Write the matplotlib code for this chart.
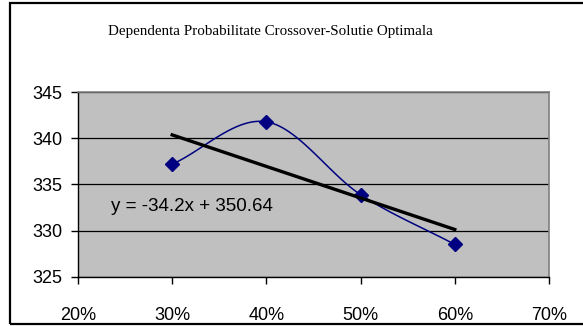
import matplotlib
matplotlib.use("Agg")
import matplotlib.pyplot as plt
import numpy as np
from matplotlib.patches import Rectangle
from matplotlib.ticker import FuncFormatter

# date
prob = [0.30, 0.40, 0.50, 0.60]
solutie = [337.2, 341.8, 333.9, 328.5]
panta = -34.2
interceptie = 350.64
titlu = "Dependenta Probabilitate Crossover-Solutie Optimala"
eticheta_trend = "y = -34.2x + 350.64"


def catmull_rom(xs, ys, n=30):
    # curba netezita ca in Excel
    px = np.array(xs, dtype=float)
    py = np.array(ys, dtype=float)
    px = np.concatenate([[2 * px[0] - px[1]], px, [2 * px[-1] - px[-2]]])
    py = np.concatenate([[2 * py[0] - py[1]], py, [2 * py[-1] - py[-2]]])
    cx, cy = [], []
    t = np.linspace(0, 1, n)
    for i in range(1, len(px) - 2):
        for arr, out in ((px, cx), (py, cy)):
            p0, p1, p2, p3 = arr[i - 1], arr[i], arr[i + 1], arr[i + 2]
            out.extend(0.5 * (2 * p1 + (-p0 + p2) * t
                              + (2 * p0 - 5 * p1 + 4 * p2 - p3) * t ** 2
                              + (-p0 + 3 * p1 - 3 * p2 + p3) * t ** 3))
    return np.array(cx), np.array(cy)


fig = plt.figure(figsize=(5.83, 3.26), dpi=100)
fig.patch.set_facecolor("white")
fig.patches.append(Rectangle((10 / 583, 2 / 326), 1.0, 321 / 326, transform=fig.transFigure,
                             fill=False, edgecolor="black", linewidth=1.6))

ax = fig.add_axes([78 / 583, 1 - 276.7 / 326, (549 - 78) / 583, (276.7 - 92.3) / 326])
ax.set_facecolor("#C0C0C0")

ax.set_xlim(0.2, 0.7)
ax.set_ylim(325, 345)
ax.set_xticks(np.arange(0.2, 0.71, 0.1))
ax.set_yticks(np.arange(325, 346, 5))
ax.xaxis.set_major_formatter(FuncFormatter(lambda v, p: f"{v * 100:.0f}%"))
ax.grid(axis="y", color="black", linewidth=0.9)
ax.set_axisbelow(True)

for s in ("top", "right"):
    ax.spines[s].set_color("#808080")
    ax.spines[s].set_linewidth(1.2)
for s in ("left", "bottom"):
    ax.spines[s].set_color("black")
    ax.spines[s].set_linewidth(1.0)

ax.tick_params(axis="both", direction="out", length=5, width=1, color="black",
               labelsize=13)
ax.tick_params(axis="x", pad=17)
ax.tick_params(axis="y", pad=6)
for lab in ax.get_xticklabels() + ax.get_yticklabels():
    lab.set_fontfamily("Liberation Sans")

sx, sy = catmull_rom(prob, solutie)
ax.plot(sx, sy, color="#000080", linewidth=1.1, zorder=3)
ax.plot(prob, solutie, linestyle="none", marker="D", markersize=7,
        color="#000080", zorder=4)

tx = np.array([prob[0], prob[-1]])
ax.plot(tx, panta * tx + interceptie, color="black", linewidth=2.4, zorder=5)
ax.text(0.2355, 332.6, eticheta_trend, fontsize=13.5, family="Liberation Sans",
        ha="left", va="center", zorder=6)

fig.text(270 / 583, 1 - 32 / 326, titlu, fontsize=10.8, family="Liberation Serif",
         ha="center", va="center")

fig.savefig("out.png", dpi=100)
